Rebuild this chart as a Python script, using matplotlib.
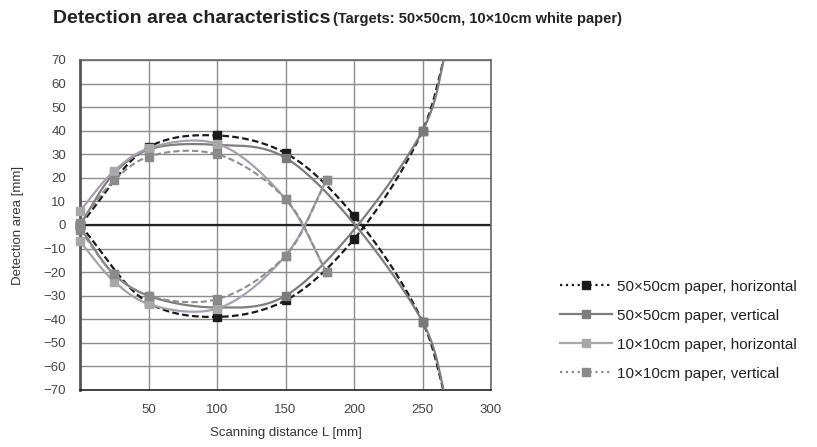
import numpy as np
import matplotlib.pyplot as plt
from matplotlib.lines import Line2D

plt.rcParams['font.family'] = ['Liberation Sans', 'DejaVu Sans']

# series data: upper and lower branch of each detection area curve
# 50x50cm paper, horizontal
s1_up_x = [0, 50, 100, 150, 200, 250, 268]
s1_up_y = [0, 33, 38, 30.5, 4, -41, -76]
s1_lo_x = [0, 50, 100, 150, 200, 250, 268]
s1_lo_y = [0, -33, -39, -32, -6, 40, 76]
# 50x50cm paper, vertical
s2_up_x = [0, 25, 50, 100, 150, 250, 268]
s2_up_y = [0, 22, 32, 34, 28.5, -41, -76]
s2_lo_x = [0, 25, 50, 100, 150, 250, 268]
s2_lo_y = [-1, -21, -30, -35, -30, 40, 76]
# 10x10cm paper, horizontal
s3_up_x = [0, 25, 50, 100, 150, 180]
s3_up_y = [6, 23, 32.5, 34.5, 11, -20]
s3_lo_x = [0, 25, 50, 100, 150, 180]
s3_lo_y = [-7, -24, -33.5, -35.5, -13, 19]
# 10x10cm paper, vertical
s4_up_x = [0, 25, 50, 100, 150, 180]
s4_up_y = [1, 19, 29, 30, 11, -20]
s4_lo_x = [0, 25, 50, 100, 150, 180]
s4_lo_y = [-2, -21, -30, -31.5, -13, 19]

labels = ['50×50cm paper, horizontal', '50×50cm paper, vertical',
          '10×10cm paper, horizontal', '10×10cm paper, vertical']


def smooth(xs, ys, n=40, sy=1.72):
    # centripetal catmull-rom through the points (drawing only)
    P = np.column_stack([xs, np.array(ys) * sy]).astype(float)
    P = np.vstack([2 * P[0] - P[1], P, 2 * P[-1] - P[-2]])
    out = []
    for i in range(1, len(P) - 2):
        p0, p1, p2, p3 = P[i - 1:i + 3]
        t0 = 0.0
        t1 = t0 + np.linalg.norm(p1 - p0) ** 0.5
        t2 = t1 + np.linalg.norm(p2 - p1) ** 0.5
        t3 = t2 + np.linalg.norm(p3 - p2) ** 0.5
        t = np.linspace(t1, t2, n)[:, None]
        a1 = (t1 - t) / (t1 - t0) * p0 + (t - t0) / (t1 - t0) * p1
        a2 = (t2 - t) / (t2 - t1) * p1 + (t - t1) / (t2 - t1) * p2
        a3 = (t3 - t) / (t3 - t2) * p2 + (t - t2) / (t3 - t2) * p3
        b1 = (t2 - t) / (t2 - t0) * a1 + (t - t0) / (t2 - t0) * a2
        b2 = (t3 - t) / (t3 - t1) * a2 + (t - t1) / (t3 - t1) * a3
        c = (t2 - t) / (t2 - t1) * b1 + (t - t1) / (t2 - t1) * b2
        out.append(c)
    c = np.vstack(out)
    return c[:, 0], c[:, 1] / sy


fig = plt.figure(figsize=(8.17, 4.47), dpi=100)
ax = fig.add_axes([80 / 817, 1 - 390 / 447, 411 / 817, 330 / 447])

series = [
    (s1_up_x, s1_up_y, s1_lo_x, s1_lo_y, '#1a1a1a', '#1a1a1a', (0, (3, 1.5)), 1.6, 6),
    (s2_up_x, s2_up_y, s2_lo_x, s2_lo_y, '#7d7d7d', '#7a7a7a', '-', 1.6, 6),
    (s3_up_x, s3_up_y, s3_lo_x, s3_lo_y, '#a99fae', '#a8a8a8', '-', 1.6, 0),
    (s4_up_x, s4_up_y, s4_lo_x, s4_lo_y, '#8e8e8e', '#8a8a8a', (0, (3, 1.5)), 1.5, 0),
]

for k, (ux, uy, lx, ly, lc, mc, ls, lw, cut) in enumerate(series):
    for bx, by in [(ux, uy), (lx, ly)]:
        sx, syy = smooth(bx, by)
        ax.plot(sx, syy, color=lc, ls=ls, lw=lw, zorder=3 + k, clip_on=True)
        mx = bx[:-1] if cut else bx
        my = by[:-1] if cut else by
        ax.plot(mx, my, ls='none', marker='s', ms=6, color=mc, zorder=3.5 + k,
                clip_on=False)

ax.set_xlim(0, 300)
ax.set_ylim(-70, 70)
ax.set_xticks([50, 100, 150, 200, 250, 300])
ax.set_yticks(np.arange(-70, 71, 10))
ax.tick_params(length=0, labelsize=9.5, labelcolor='#444444')
ax.tick_params(axis='y', pad=10)
ax.tick_params(axis='x', pad=10)
ax.grid(True, color='#8c8c8c', lw=1)
ax.axhline(0, color='#222222', lw=1.6, zorder=2.5)
for side in ['top', 'right']:
    ax.spines[side].set_color('#666666')
    ax.spines[side].set_linewidth(1.2)
ax.spines['left'].set_color('#555555')
ax.spines['left'].set_linewidth(2)
ax.spines['bottom'].set_color('#222222')
ax.spines['bottom'].set_linewidth(1.2)

ax.set_xlabel('Scanning distance L [mm]', fontsize=9.5, color='#333333', labelpad=8)
ax.set_ylabel('Detection area [mm]', fontsize=9.5, color='#333333', labelpad=14)

title = fig.text(53 / 817, 1 - 23 / 447, 'Detection area characteristics',
                 fontsize=14, fontweight='bold', color='#222222')
fig.canvas.draw()
tx1 = title.get_window_extent().x1
fig.text(tx1 / 817 + 3 / 817, 1 - 23 / 447, '(Targets: 50×50cm, 10×10cm white paper)',
         fontsize=10.5, fontweight='bold', color='#222222')

handles = [
    Line2D([], [], color='#1a1a1a', ls=':', lw=1.6, marker='s', ms=6),
    Line2D([], [], color='#7d7d7d', ls='-', lw=1.6, marker='s', ms=6),
    Line2D([], [], color='#a8a8a8', ls='-', lw=1.6, marker='s', ms=6),
    Line2D([], [], color='#8a8a8a', ls=':', lw=1.6, marker='s', ms=6),
]
fig.legend(handles, labels, loc='upper left', bbox_to_anchor=(546 / 817, 1 - 266 / 447),
           frameon=False, fontsize=11, handlelength=3.4, labelspacing=0.98,
           handletextpad=0.35, labelcolor='#222222')

fig.savefig('out.png', dpi=100)
